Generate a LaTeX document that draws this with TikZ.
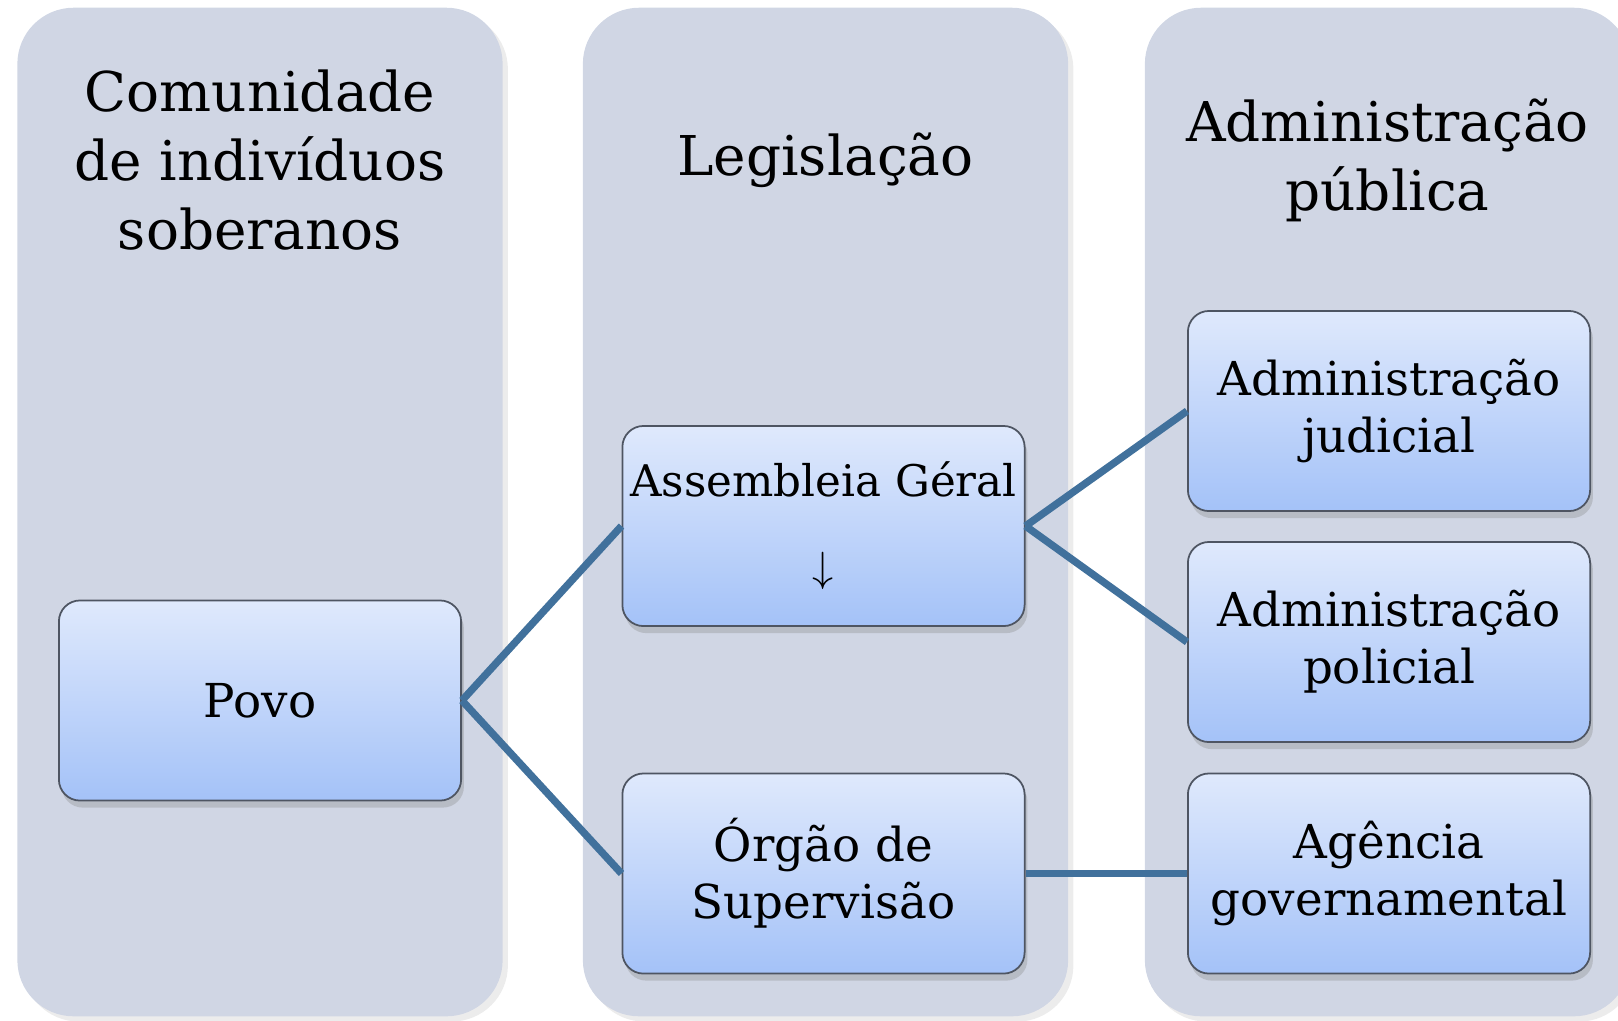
\documentclass[tikz,border=0pt]{standalone}
\usepackage{fontspec}
\setmainfont{DejaVu Serif}
\usepackage{tikz}
\usetikzlibrary{shadows}
\definecolor{panelgray}{HTML}{D0D6E4}
\definecolor{boxtop}{HTML}{DFE9FC}
\definecolor{boxbottom}{HTML}{A4C2F8}
\definecolor{boxline}{HTML}{4E5562}
\definecolor{linkblue}{HTML}{41719C}

\begin{document}
\begin{tikzpicture}[x=0.01cm,y=-0.01cm]
\tikzset{
    panel/.style={%
        fill=panelgray, draw=none,
        rectangle,
        rounded corners=16pt,
        minimum width=4.85cm,
        minimum height=10.08cm,
        drop shadow={shadow xshift=1.5pt, shadow yshift=-1.5pt, opacity=0.15}
        },
    box/.style={%
        draw=boxline, line width=0.5pt,
        top color=boxtop, bottom color=boxbottom,
        rectangle,
        rounded corners=6pt,
        minimum width=4.02cm,
        minimum height=2.0cm,
        align=center,
        font=\fontsize{13.3}{16.2}\selectfont,
        drop shadow={shadow xshift=0.8pt, shadow yshift=-2pt, opacity=0.3}
        },
    title/.style={%
        align=center,
        font=\fontsize{15.6}{19.6}\selectfont
        },
    link/.style={%
        draw=linkblue, line width=2.1pt
        },
}
\useasboundingbox (0,0) rectangle (1618,1020);
%%%COLUMNS
\node[panel] (col1) at (260,512) {};
\node[panel] (col2) at (825.5,512) {};
\node[panel] (col3) at (1387.5,512) {};
\node[title] (t1) at (260,160) {Comunidade\\de indivíduos\\soberanos};
\node[title] (t2) at (825.5,160) {Legislação};
\node[title] (t3) at (1387.5,160) {Administração\\pública};
%%%BOXES
\node[box] (povo) at (260,700.5) {Povo};
\node[box, inner xsep=1pt, font=\fontsize{12.4}{16.2}\selectfont] (assembleia) at (823.5,526)
    {Assembleia Géral\\[8pt]$\downarrow$};
\node[box] (orgao) at (823.5,873.5) {Órgão de\\Supervisão};
\node[box] (judicial) at (1389,411) {Administração\\judicial};
\node[box] (policial) at (1389,642) {Administração\\policial};
\node[box] (agencia) at (1389,873.5) {Agência\\governamental};
%%%LINKS
\draw[link] (povo.east) -- (assembleia.west);
\draw[link] (povo.east) -- (orgao.west);
\draw[link] (assembleia.east) -- (judicial.west);
\draw[link] (assembleia.east) -- (policial.west);
\draw[link] (orgao.east) -- (agencia.west);
\end{tikzpicture}
\end{document}
